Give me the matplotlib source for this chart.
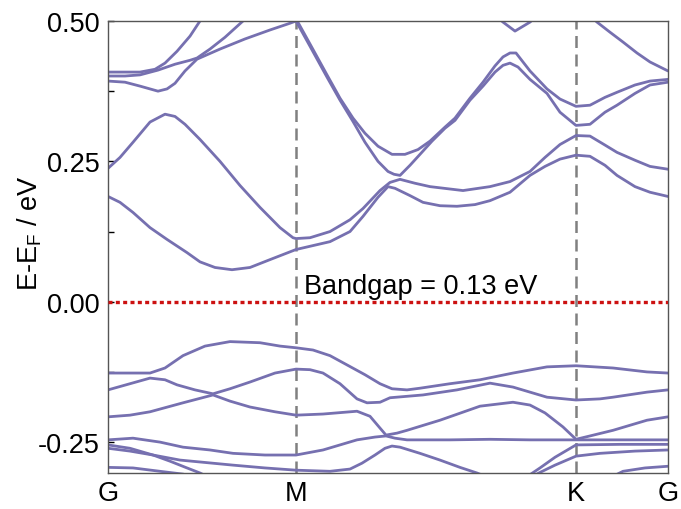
import matplotlib
matplotlib.use("Agg")
from matplotlib import pyplot as plt
from matplotlib.ticker import FixedLocator, FormatStrFormatter

plt.rcParams['font.family'] = ['Liberation Sans', 'DejaVu Sans']
plt.rcParams['mathtext.fontset'] = 'custom'
plt.rcParams['mathtext.rm'] = 'Liberation Sans'

# high-symmetry points along the path
kpt_pos = [0, 1.88, 4.68, 5.60]
kpt_labels = ['G', 'M', 'K', 'G']
gap_text = 'Bandgap = 0.13 eV'

# conduction bands (eV, relative to E_F)
cb1_k = [0, 0.12, 0.25, 0.42, 0.59, 0.79, 0.92, 1.07, 1.24, 1.42, 1.62, 1.88, 2.22, 2.42, 2.55, 2.70, 2.80, 2.87,
         3.02, 3.15, 3.32, 3.49, 3.67, 3.82, 4.02, 4.22, 4.37, 4.52, 4.68, 4.82, 4.97, 5.09, 5.27, 5.42, 5.60]
cb1_e = [0.1875, 0.177, 0.159, 0.132, 0.111, 0.0875, 0.071, 0.061, 0.057, 0.061, 0.075, 0.093, 0.107, 0.125, 0.152,
         0.186, 0.205, 0.202, 0.189, 0.177, 0.171, 0.170, 0.173, 0.180, 0.195, 0.225, 0.241, 0.254, 0.261, 0.259,
         0.243, 0.225, 0.205, 0.195, 0.1875]

cb2_k = [0, 0.12, 0.25, 0.42, 0.57, 0.67, 0.77, 0.92, 1.12, 1.32, 1.52, 1.72, 1.85, 1.88, 2.02, 2.22, 2.42, 2.55,
         2.72, 2.82, 2.92, 3.07, 3.22, 3.55, 3.82, 4.02, 4.22, 4.37, 4.52, 4.68, 4.82, 4.97, 5.09, 5.27, 5.42, 5.60]
cb2_e = [0.2375, 0.257, 0.284, 0.320, 0.334, 0.330, 0.316, 0.289, 0.250, 0.207, 0.168, 0.132, 0.114, 0.1125, 0.114,
         0.125, 0.146, 0.166, 0.198, 0.2125, 0.218, 0.211, 0.205, 0.198, 0.205, 0.214, 0.232, 0.257, 0.280, 0.296,
         0.295, 0.279, 0.266, 0.252, 0.241, 0.236]

cb3_k = [0, 0.17, 0.32, 0.42, 0.50, 0.59, 0.67, 0.77, 0.89, 1.12, 1.37, 1.62, 1.82, 1.88, 2.02, 2.19, 2.32, 2.45,
         2.57, 2.70, 2.80, 2.86, 2.92, 3.02, 3.12, 3.24, 3.37, 3.47, 3.62, 3.75, 3.87, 3.95, 4.02, 4.10, 4.22, 4.39,
         4.52, 4.68, 4.82, 4.97, 5.09, 5.27, 5.42, 5.60]
cb3_e = [0.393, 0.391, 0.384, 0.379, 0.375, 0.379, 0.389, 0.411, 0.432, 0.450, 0.468, 0.484, 0.496, 0.500, 0.455,
         0.400, 0.359, 0.321, 0.284, 0.250, 0.232, 0.227, 0.225, 0.243, 0.2625, 0.286, 0.309, 0.323, 0.359, 0.384,
         0.409, 0.421, 0.425, 0.418, 0.396, 0.371, 0.3375, 0.314, 0.316, 0.3375, 0.350, 0.371, 0.386, 0.391]

cb4_k = [0, 0.17, 0.32, 0.50, 0.67, 0.82, 0.89, 1.02, 1.17, 1.35, 1.52, 1.72, 1.88, 2.02, 2.19, 2.32, 2.45, 2.57,
         2.70, 2.84, 2.97, 3.10, 3.22, 3.37, 3.47, 3.62, 3.75, 3.87, 3.95, 4.02, 4.08, 4.22, 4.39, 4.52, 4.68, 4.82,
         4.97, 5.09, 5.27, 5.42, 5.60]
cb4_e = [0.402, 0.402, 0.404, 0.4125, 0.423, 0.430, 0.434, 0.450, 0.471, 0.500, 0.521, 0.525, 0.504, 0.459, 0.404,
         0.3625, 0.327, 0.300, 0.277, 0.2625, 0.2625, 0.271, 0.286, 0.311, 0.327, 0.3625, 0.391, 0.420, 0.436,
         0.443, 0.443, 0.411, 0.379, 0.361, 0.348, 0.350, 0.364, 0.373, 0.386, 0.393, 0.396]

cb5_k = [0, 0.17, 0.32, 0.47, 0.57, 0.69, 0.82, 0.92, 1.22, 1.92, 2.92, 3.62, 3.82, 3.95, 4.07, 4.22, 4.37, 4.57,
         4.77, 4.89, 5.02, 5.15, 5.29, 5.42, 5.60]
cb5_e = [0.409, 0.409, 0.409, 0.414, 0.425, 0.446, 0.473, 0.500, 0.575, 0.611, 0.593, 0.548, 0.518, 0.498, 0.482,
         0.498, 0.521, 0.530, 0.518, 0.498, 0.480, 0.4625, 0.443, 0.427, 0.411]

# valence bands
vb1_k = [0, 0.22, 0.42, 0.57, 0.75, 0.97, 1.22, 1.52, 1.72, 1.88, 2.05, 2.22, 2.39, 2.57, 2.72, 2.84, 2.99, 3.12,
         3.42, 3.72, 4.05, 4.39, 4.68, 5.05, 5.39, 5.60]
vb1_e = [-0.127, -0.127, -0.127, -0.118, -0.096, -0.079, -0.071, -0.073, -0.079, -0.082, -0.086, -0.096, -0.1125,
         -0.130, -0.146, -0.155, -0.157, -0.154, -0.146, -0.139, -0.127, -0.116, -0.114, -0.118, -0.125, -0.127]

vb2_k = [0, 0.22, 0.42, 0.57, 0.69, 0.87, 1.05, 1.22, 1.42, 1.67, 1.88, 2.02, 2.15, 2.32, 2.49, 2.59, 2.72, 2.82,
         3.15, 3.49, 3.82, 4.05, 4.22, 4.39, 4.68, 4.92, 5.05, 5.39, 5.60]
vb2_e = [-0.157, -0.146, -0.136, -0.139, -0.148, -0.157, -0.164, -0.155, -0.143, -0.127, -0.120, -0.121, -0.127,
         -0.146, -0.173, -0.180, -0.179, -0.171, -0.166, -0.157, -0.145, -0.152, -0.161, -0.170, -0.175, -0.173,
         -0.170, -0.161, -0.157]

vb3_k = [0, 0.22, 0.42, 0.75, 1.05, 1.22, 1.42, 1.67, 1.88, 2.15, 2.49, 2.62, 2.72, 2.78, 2.89, 2.99, 3.32, 3.72,
         4.05, 4.22, 4.37, 4.55, 4.68, 4.82, 5.05, 5.39, 5.60]
vb3_e = [-0.205, -0.202, -0.196, -0.180, -0.166, -0.177, -0.1875, -0.196, -0.202, -0.200, -0.195, -0.204, -0.225,
         -0.2375, -0.234, -0.229, -0.211, -0.186, -0.179, -0.184, -0.198, -0.223, -0.245, -0.239, -0.229, -0.211,
         -0.205]

vb4_k = [0, 0.25, 0.52, 0.75, 1.02, 1.25, 1.57, 1.88, 2.15, 2.49, 2.67, 2.78, 2.87, 2.99, 3.42, 3.82, 4.22, 4.68,
         5.12, 5.60]
vb4_e = [-0.246, -0.243, -0.250, -0.259, -0.264, -0.270, -0.273, -0.273, -0.264, -0.246, -0.241, -0.239, -0.243,
         -0.246, -0.246, -0.245, -0.246, -0.246, -0.246, -0.246]

vb5_k = [0, 0.22, 0.45, 0.72, 1.25, 1.57, 1.88, 2.22, 2.42, 2.54, 2.67, 2.77, 2.84, 2.92, 3.12, 3.32, 3.52, 3.69,
         3.87, 4.02, 4.17, 4.32, 4.47, 4.68, 5.12, 5.60]
vb5_e = [-0.255, -0.261, -0.273, -0.282, -0.291, -0.296, -0.300, -0.302, -0.298, -0.2875, -0.273, -0.261, -0.257,
         -0.259, -0.270, -0.282, -0.295, -0.305, -0.318, -0.320, -0.314, -0.296, -0.277, -0.255, -0.254, -0.254]

vb6_k = [0, 0.22, 0.45, 0.62, 0.79, 0.92, 1.07, 1.42, 2.42, 3.42, 3.97, 4.17, 4.32, 4.47, 4.68, 4.92, 5.27, 5.60]
vb6_e = [-0.261, -0.266, -0.273, -0.284, -0.296, -0.305, -0.318, -0.345, -0.354, -0.345, -0.332, -0.318, -0.304,
         -0.291, -0.275, -0.270, -0.266, -0.264]

vb7_k = [0, 0.25, 0.52, 0.75, 0.92, 1.32, 2.42, 3.92, 4.82, 4.97, 5.15, 5.37, 5.60]
vb7_e = [-0.295, -0.296, -0.302, -0.307, -0.314, -0.336, -0.371, -0.3625, -0.336, -0.318, -0.302, -0.296, -0.293]

bands = [(cb1_k, cb1_e), (cb2_k, cb2_e), (cb3_k, cb3_e), (cb4_k, cb4_e), (cb5_k, cb5_e),
         (vb1_k, vb1_e), (vb2_k, vb2_e), (vb3_k, vb3_e), (vb4_k, vb4_e), (vb5_k, vb5_e),
         (vb6_k, vb6_e), (vb7_k, vb7_e)]

fig = plt.figure(figsize=(6.81, 5.10), dpi=100)
ax = fig.add_axes([0.1586, 0.0706, 0.8223, 0.8863])

# vertical lines at M and K
for kx in kpt_pos[1:3]:
    ax.axvline(kx, color='#808080', lw=1.8, linestyle=(0, (4.8, 2.6)), zorder=1)

for k, e in bands:
    ax.plot(k, e, color='#7670b0', lw=2.0, solid_capstyle='round', solid_joinstyle='round', zorder=2)

# Fermi level
ax.axhline(0, color='#cc1111', lw=2.4, linestyle=(0, (1.2, 1.0)), zorder=3)
ax.text(1.96, 0.028, gap_text, ha='left', va='center', fontsize=19.5)

ax.set_xlim(kpt_pos[0], kpt_pos[-1])
ax.set_ylim(-0.305, 0.5)
ax.set_xticks(kpt_pos)
ax.set_xticklabels(kpt_labels)
ax.yaxis.set_major_locator(FixedLocator([-0.25, 0.0, 0.25, 0.5]))
ax.yaxis.set_minor_locator(FixedLocator([-0.125, 0.125, 0.375]))
ax.yaxis.set_major_formatter(FormatStrFormatter('%.2f'))
ax.tick_params(axis='x', length=0, pad=5, labelsize=19.5)
ax.tick_params(axis='y', which='both', direction='in', length=4, width=1, pad=6, labelsize=19.5)

ax.set_ylabel(r'E-E$_\mathrm{F}$ / eV', fontsize=19.5)
ax.yaxis.set_label_coords(-0.114, 0.533)

for sp in ax.spines.values():
    sp.set_color('#555555')
    sp.set_linewidth(1.0)

fig.savefig('out.png', dpi=100)
